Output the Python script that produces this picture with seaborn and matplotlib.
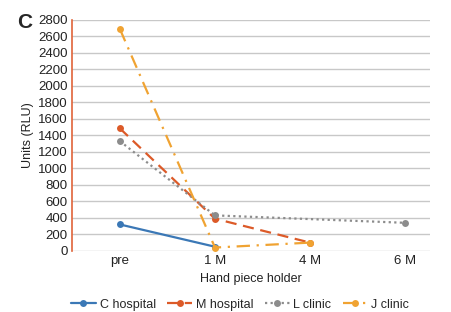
import matplotlib
matplotlib.use("Agg")
import matplotlib.pyplot as plt
import seaborn as sns
import pandas as pd

categories = ["pre", "1 M", "4 M", "6 M"]
c_hospital = [320, 50, None, None]
m_hospital = [1485, 390, 100, None]
l_clinic = [1330, 430, None, 340]
j_clinic = [2690, 40, 100, None]
series_names = ["C hospital", "M hospital", "L clinic", "J clinic"]
yticks = list(range(0, 2801, 200))

colors = ["#3b78b6", "#dc5a28", "#8c8c8c", "#f0a332"]
dashes = ["-", (0, (5, 3)), (0, (1, 1.5)), (0, (6, 3, 1, 3))]

rows = []
for name, vals in zip(series_names, [c_hospital, m_hospital, l_clinic, j_clinic]):
    for i, (cat, v) in enumerate(zip(categories, vals)):
        if v is not None:
            rows.append({"series": name, "pos": i, "cat": cat, "value": v})
df = pd.DataFrame(rows)

sns.set_style("white")
plt.rcParams["font.family"] = ["Liberation Sans Narrow", "Liberation Sans", "DejaVu Sans"]

fig = plt.figure(figsize=(4.52, 3.12), dpi=100)
ax = fig.add_axes([0.159, 0.196, 0.792, 0.740])

for name, col, ls in zip(series_names, colors, dashes):
    sub = df[df["series"] == name]
    sns.lineplot(data=sub, x="pos", y="value", ax=ax, color=col, marker="o",
                 markersize=5, markeredgewidth=0, linewidth=1.6, label=name)
    ax.lines[-1].set_linestyle(ls)

ax.set_xlim(-0.505, 3.26)
ax.set_ylim(0, 2800)
ax.set_yticks(yticks)
ax.set_yticklabels([str(t) for t in yticks], fontsize=9.5)
ax.set_xticks(range(len(categories)))
ax.set_xticklabels(categories, fontsize=9.5)
ax.yaxis.grid(True, color="#c8c8c8", linewidth=1.0)
ax.set_axisbelow(True)
for s in ["top", "right", "bottom"]:
    ax.spines[s].set_visible(False)
ax.spines["left"].set_color("#e0643a")
ax.spines["left"].set_linewidth(1.2)
ax.tick_params(axis="both", length=0, pad=3, colors="#222222")
ax.set_xlabel("Hand piece holder", fontsize=9, labelpad=4, color="#222222")
ax.set_ylabel("Units (RLU)", fontsize=9, labelpad=3, color="#222222")

fig.text(0.038, 0.91, "C", fontsize=15, fontweight="bold", family="Liberation Sans")

handles, labels = ax.get_legend_handles_labels()
ax.legend(handles, labels, loc="upper center", bbox_to_anchor=(0.47, -0.185),
          ncol=4, frameon=False, fontsize=9, handlelength=2.0,
          columnspacing=0.9, handletextpad=0.3, borderaxespad=0)

fig.savefig("out.png", dpi=100)
